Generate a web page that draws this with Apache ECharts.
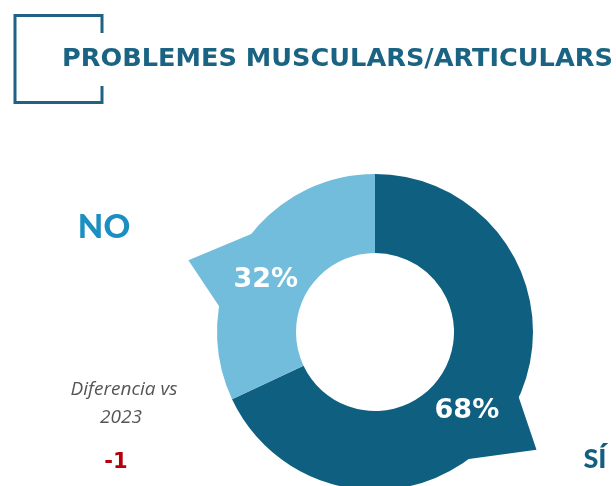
<!DOCTYPE html>
<html>
<head>
<meta charset="utf-8">
<script src="https://cdn.jsdelivr.net/npm/echarts@6/dist/echarts.min.js"></script>
<style>
html,body{margin:0;padding:0;background:#fff;}
#chart{width:616px;height:486px;}
</style>
</head>
<body>
<div id="chart"></div>
<script>
// ---- data ----
const categories = ['SÍ', 'NO'];
const shares = [68, 32];
const titleText = 'PROBLEMES MUSCULARS/ARTICULARS';
const diffLabel = ['Diferencia vs', '2023'];
const diffValue = -1;

// ---- style ----
const sliceColors = ['#0f5f80', '#72bddb'];
const CX = 375, CY = 332, R_IN = 79, R_OUT = 158;
const tailShift = [6.7, -8.4];

const total = shares.reduce((a, b) => a + b, 0);
function polar(angDeg, r) {
  const a = angDeg * Math.PI / 180;
  return [CX + r * Math.sin(a), CY - r * Math.cos(a)];
}
function tailAngle(i) {
  let start = 0;
  for (let j = 0; j < i; j++) start += shares[j];
  const a0 = start / total * 360, a1 = (start + shares[i]) / total * 360;
  return (a0 + a1) / 2 + tailShift[i];
}

const chart = echarts.init(document.getElementById('chart'), null, {renderer: 'canvas'});
chart.setOption({
  backgroundColor: '#ffffff',
  animation: false,
  graphic: [
    {type: 'polyline', shape: {points: [[102, 33], [102, 15.5], [15, 15.5], [15, 102.5], [102, 102.5], [102, 86]]},
     style: {stroke: '#1f6283', lineWidth: 3, fill: null}},
    {type: 'text', x: 62, y: 59.5, style: {text: titleText, font: 'bold 25.6px "DejaVu Sans"', fill: '#1b6383', align: 'left', verticalAlign: 'middle'}},
    {type: 'text', x: 104, y: 227, style: {text: categories[1], font: '900 33px Lato', fill: '#1b8fc2', align: 'center', verticalAlign: 'middle'}},
    {type: 'text', x: 595, y: 459, style: {text: categories[0], font: '900 27px Lato', fill: '#125f80', align: 'center', verticalAlign: 'middle'}},
    {type: 'text', x: 124, y: 390, style: {text: diffLabel[0], font: 'italic 19px "Open Sans"', fill: '#555555', align: 'center', verticalAlign: 'middle'}},
    {type: 'text', x: 121, y: 418, style: {text: diffLabel[1], font: 'italic 19px "Open Sans"', fill: '#555555', align: 'center', verticalAlign: 'middle'}},
    {type: 'text', x: 116, y: 463, style: {text: String(diffValue), font: 'bold 21px "DejaVu Sans"', fill: '#b3000c', align: 'center', verticalAlign: 'middle'}}
  ],
  series: [
    {
      type: 'custom', coordinateSystem: 'none', z: 1,
      data: shares.map((v, i) => [i, v]),
      renderItem: function (params, api) {
        const i = params.dataIndex;
        const m = tailAngle(i);
        const pts = [polar(m - 15, R_OUT - 1), polar(m - 3, R_OUT * 1.265), polar(m + 15, R_OUT - 1), polar(m, R_OUT * 0.8)];
        return {type: 'polygon', shape: {points: pts}, style: {fill: sliceColors[i]}};
      }
    },
    {
      type: 'pie', z: 2,
      center: [CX, CY], radius: [R_IN, R_OUT],
      startAngle: 90, clockwise: true,
      label: {show: false}, labelLine: {show: false},
      emphasis: {disabled: true},
      itemStyle: {borderWidth: 0},
      data: categories.map((c, i) => ({name: c, value: shares[i], itemStyle: {color: sliceColors[i]}}))
    },
    {
      type: 'custom', coordinateSystem: 'none', z: 3,
      data: shares.map((v, i) => [i, v]),
      renderItem: function (params, api) {
        const i = params.dataIndex;
        const p = polar(tailAngle(i) + 1.5, 121);
        return {type: 'text', x: p[0], y: p[1],
          style: {text: shares[i] + '%', font: 'bold 27px "DejaVu Sans"', fill: '#ffffff', align: 'center', verticalAlign: 'middle'}};
      }
    }
  ]
});
</script>
</body>
</html>
